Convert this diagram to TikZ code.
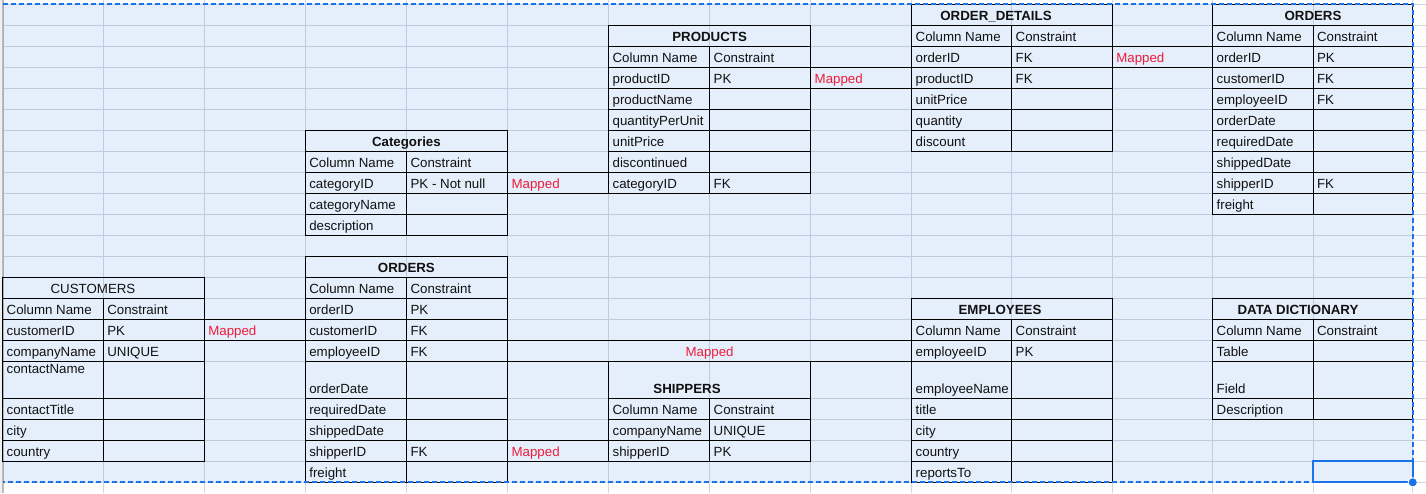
\documentclass[tikz,border=0pt]{standalone}
\usepackage{fontspec}
\setmainfont{Liberation Sans}
\usepackage{xcolor}
\usepackage{tikz}

\definecolor{sheetgrid}{HTML}{D0D6DE}
\definecolor{selblue}{HTML}{1A73E8}
\definecolor{mapred}{HTML}{EE1C3A}
\definecolor{inktext}{HTML}{111111}

% one row of a table: [extra], table, column, row, field, constraint
\newcommand{\fieldrow}[6][]{%
  \pgfmathtruncatemacro\colmid{#3+1}%
  \pgfmathtruncatemacro\colend{#3+2}%
  \pgfmathtruncatemacro\rownext{#4+1}%
  \draw[tableline] (p#3-#4) rectangle (p\colend-\rownext);
  \draw[tableline] (p\colmid-#4) -- (p\colmid-\rownext);
  \node[celltext,#1] (#2-n#4) at (p#3-\rownext) {#5};
  \node[celltext] (#2-c#4) at (p\colmid-\rownext) {#6};
}
% title cell over two columns: [extra], table, column, row, x centre, text
\newcommand{\tabletitle}[6][]{%
  \pgfmathtruncatemacro\colend{#3+2}%
  \pgfmathtruncatemacro\rownext{#4+1}%
  \draw[tableline] (p#3-#4) rectangle (p\colend-\rownext);
  \node[titletext,#1] (#2-title) at (#5,0 |- p#3-\rownext) {#6};
}
% single boxed "Mapped" cell: name, column, row
\newcommand{\mapcell}[3]{%
  \pgfmathtruncatemacro\colmid{#2+1}%
  \pgfmathtruncatemacro\rownext{#3+1}%
  \draw[tableline] (p#2-#3) rectangle (p\colmid-\rownext);
  \node[maptext] (#1) at (p#2-\rownext) {Mapped};
}

\begin{document}
\begin{tikzpicture}[x=1pt,y=-1pt,
  tableline/.style={draw=black,line width=0.9pt},
  celltext/.style={anchor=base west,inner sep=0pt,xshift=3.8pt,yshift=4.5pt,text=inktext,font=\fontsize{13.3}{16}\selectfont},
  titletext/.style={anchor=base,inner sep=0pt,yshift=4.5pt,text=inktext,font=\fontsize{13.3}{16}\selectfont\bfseries},
  maptext/.style={celltext,text=mapred},
  mapcentre/.style={titletext,font=\fontsize{13.3}{16}\selectfont,text=mapred}]
  \useasboundingbox (0,0) rectangle (1426,493);

  % sheet background and grid
  \fill[white] (0,0) rectangle (1426,493);
  \foreach \x in {2.7,103.3,204.3,305.3,406.6,507.6,608.6,709.7,810.7,911.7,1011.7,1112.3,1212.7,1313,1412.7}
    \draw[sheetgrid,line width=1pt] (\x,0) -- (\x,493);
  \foreach \y in {4.3,25.3,46.3,67.3,88.3,109.3,130.3,151.3,172.3,193.3,214.3,235.3,256.3,277.3,298.3,319.3,340.3,361.3,398.3,419.3,440.3,461.3,482.3}
    \draw[sheetgrid,line width=1pt] (0,\y) -- (1426,\y);
  \fill[gray!12] (0,0) rectangle (2,493);
  \draw[gray!55,line width=1.6pt] (2.7,0) -- (2.7,493);

  % grid points p<col>-<row>
  \foreach \x [count=\i from 0] in {2.7,103.3,204.3,305.3,406.6,507.6,608.6,709.7,810.7,911.7,1011.7,1112.3,1212.7,1313,1412.7}
    \foreach \y [count=\j] in {4.3,25.3,46.3,67.3,88.3,109.3,130.3,151.3,172.3,193.3,214.3,235.3,256.3,277.3,298.3,319.3,340.3,361.3,398.3,419.3,440.3,461.3,482.3}
      \coordinate (p\i-\j) at (\x,\y);

  % selection tint
  \fill[selblue,opacity=0.11] (p0-1) rectangle (p14-23);

  % PRODUCTS
  \tabletitle{prod}{6}{2}{709.6}{PRODUCTS}
  \foreach \rw/\fn/\fk in {3/Column Name/Constraint,4/productID/PK,5/productName/,6/quantityPerUnit/,7/unitPrice/,8/discontinued/,9/categoryID/FK}
    {\fieldrow{prod}{6}{\rw}{\fn}{\fk}}

  % ORDER_DETAILS
  \tabletitle{odet}{9}{1}{996}{ORDER\_DETAILS}
  \foreach \rw/\fn/\fk in {2/Column Name/Constraint,3/orderID/FK,4/productID/FK,5/unitPrice/,6/quantity/,7/discount/}
    {\fieldrow{odet}{9}{\rw}{\fn}{\fk}}

  % ORDERS (top right)
  \tabletitle{ordtop}{12}{1}{1313}{ORDERS}
  \foreach \rw/\fn/\fk in {2/Column Name/Constraint,3/orderID/PK,4/customerID/FK,5/employeeID/FK,6/orderDate/,7/requiredDate/,8/shippedDate/,9/shipperID/FK,10/freight/}
    {\fieldrow{ordtop}{12}{\rw}{\fn}{\fk}}

  % Categories
  \tabletitle{cat}{3}{7}{406.4}{Categories}
  \foreach \rw/\fn/\fk in {8/Column Name/Constraint,9/categoryID/PK - Not null,10/categoryName/,11/description/}
    {\fieldrow{cat}{3}{\rw}{\fn}{\fk}}

  % CUSTOMERS
  \tabletitle[font=\fontsize{13.3}{16}\selectfont]{cust}{0}{14}{93}{CUSTOMERS}
  \foreach \rw/\fn/\fk in {15/Column Name/Constraint,16/customerID/PK,17/companyName/UNIQUE,19/contactTitle/,20/city/,21/country/}
    {\fieldrow{cust}{0}{\rw}{\fn}{\fk}}
  \fieldrow[yshift=20.8pt]{cust}{0}{18}{contactName}{}

  % ORDERS (middle)
  \tabletitle{ordmid}{3}{13}{406.4}{ORDERS}
  \foreach \rw/\fn/\fk in {14/Column Name/Constraint,15/orderID/PK,16/customerID/FK,17/employeeID/FK,18/orderDate/,19/requiredDate/,20/shippedDate/,21/shipperID/FK,22/freight/}
    {\fieldrow{ordmid}{3}{\rw}{\fn}{\fk}}

  % SHIPPERS
  \tabletitle{ship}{6}{18}{687}{SHIPPERS}
  \foreach \rw/\fn/\fk in {19/Column Name/Constraint,20/companyName/UNIQUE,21/shipperID/PK}
    {\fieldrow{ship}{6}{\rw}{\fn}{\fk}}

  % EMPLOYEES
  \tabletitle{emp}{9}{15}{1000}{EMPLOYEES}
  \foreach \rw/\fn/\fk in {16/Column Name/Constraint,17/employeeID/PK,18/employeeName/,19/title/,20/city/,21/country/,22/reportsTo/}
    {\fieldrow{emp}{9}{\rw}{\fn}{\fk}}

  % DATA DICTIONARY
  \tabletitle{dict}{12}{15}{1298}{DATA DICTIONARY}
  \foreach \rw/\fn/\fk in {16/Column Name/Constraint,17/Table/,18/Field/,19/Description/}
    {\fieldrow{dict}{12}{\rw}{\fn}{\fk}}

  % mapped links
  \mapcell{map-prod}{8}{4}
  \mapcell{map-ord}{11}{3}
  \mapcell{map-cat}{5}{9}
  \mapcell{map-cust}{2}{16}
  \mapcell{map-ship}{5}{21}
  \draw[tableline] (p5-17) rectangle (p9-18);
  \node[mapcentre] (map-emp) at (709.6,0 |- p5-18) {Mapped};

  % selection frame, active cell and handle
  \draw[selblue,line width=1.8pt,dash pattern=on 5pt off 3pt] (p0-1) -- (p14-1) -- (p14-23) -- (p0-23);
  \draw[selblue,line width=2.2pt] (p13-22) rectangle (p14-23);
  \filldraw[fill=selblue,draw=white,line width=0.8pt] (p14-23) circle (4.6pt);
\end{tikzpicture}
\end{document}
